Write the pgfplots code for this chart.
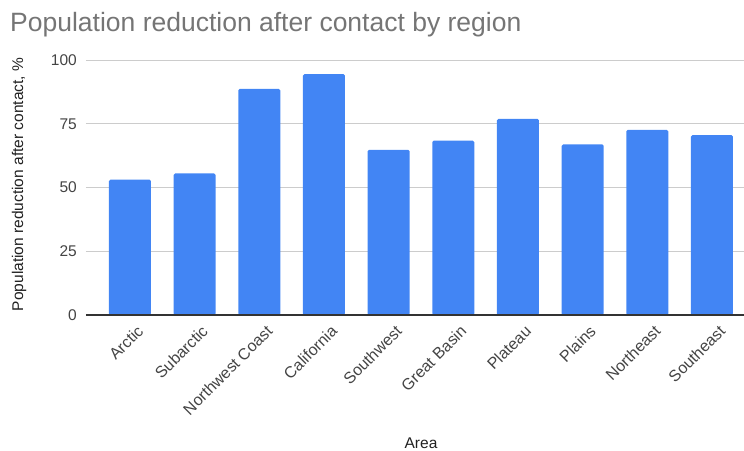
\documentclass[border=0pt]{standalone}
\usepackage{pgfplots}
\pgfplotsset{compat=1.18}
\usepackage{fontspec}
\setmainfont{Liberation Sans}
\definecolor{barblue}{HTML}{4285F4}
\definecolor{gridgray}{HTML}{CCCCCC}
\definecolor{titlegray}{HTML}{757575}
\definecolor{tickgray}{HTML}{444444}
\definecolor{axisgray}{HTML}{333333}
\begin{document}
\begin{tikzpicture}
\path[use as bounding box] (-86pt,-135pt) rectangle (658pt,315pt);
\begin{axis}[
  at={(0pt,0pt)}, anchor=south west,
  scale only axis,
  width=658pt, height=255pt,
  xmin=-0.68, xmax=9.495,
  ymin=0, ymax=100,
  ytick={0,25,50,75,100},
  xtick={0,...,9},
  xticklabels={Arctic,Subarctic,Northwest Coast,California,Southwest,Great Basin,Plateau,Plains,Northeast,Southeast},
  major tick length=0pt,
  axis line style={draw=none},
  ymajorgrids,
  grid style={gridgray, line width=1pt},
  /pgf/number format/assume math mode=true,
  tick label style={font=\fontsize{15.5}{18}\selectfont, text=tickgray},
  yticklabel style={anchor=east, inner sep=0pt, xshift=-9pt},
  xticklabel style={anchor=north east, inner sep=0pt, xshift=6pt, yshift=-9pt, rotate=45, font=\fontsize{16}{18}\selectfont},
  every axis x label/.style={at={(axis description cs:0.5,0)}, anchor=base, xshift=6pt, yshift=-133pt, font=\fontsize{15.5}{18}\selectfont, text=black!87},
  every axis y label/.style={at={(axis description cs:0,0.5)}, xshift=-67pt, yshift=3pt, rotate=90, anchor=center, font=\fontsize{15.5}{18}\selectfont, text=black!87},
  xlabel={Area},
  ylabel={Population reduction after contact, \%},
  clip=false,
]
\addplot[ybar, bar width=42pt, fill=barblue, draw=none, rounded corners=1.5pt] coordinates {
  (0,53.1) (1,55.5) (2,88.7) (3,94.5) (4,64.8) (5,68.4) (6,76.9) (7,66.9) (8,72.6) (9,70.5)
};
\draw[axisgray, line width=1.3pt] (axis cs:-0.68,0) -- (axis cs:9.495,0);
\end{axis}
\node[anchor=base west, inner sep=0pt, text=titlegray, font=\fontsize{26.5}{30}\selectfont] at (-76pt,283pt) {Population reduction after contact by region};
\end{tikzpicture}
\end{document}
